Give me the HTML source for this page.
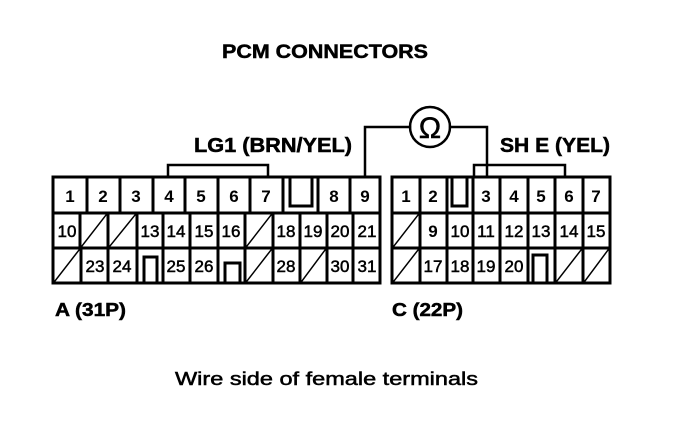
<!DOCTYPE html>
<html><head><meta charset="utf-8"><style>
html,body{margin:0;padding:0;background:#fff}
svg{display:block}
text{font-family:"Liberation Sans",Arial,sans-serif;fill:#000}
.b{font-weight:bold}
.n{font-size:17px;text-anchor:middle}
.r{stroke:#000;stroke-width:0.5}
</style></head><body>
<svg width="688" height="424" viewBox="0 0 688 424" xmlns="http://www.w3.org/2000/svg">
<g stroke="#000" stroke-width="3" fill="none" stroke-linecap="square">
<rect x="53" y="177" width="327" height="106"/>
<line x1="53" y1="213" x2="380" y2="213"/>
<line x1="53" y1="248" x2="380" y2="248"/>
<line x1="87" y1="177" x2="87" y2="213"/>
<line x1="120" y1="177" x2="120" y2="213"/>
<line x1="153" y1="177" x2="153" y2="213"/>
<line x1="185" y1="177" x2="185" y2="213"/>
<line x1="218" y1="177" x2="218" y2="213"/>
<line x1="250" y1="177" x2="250" y2="213"/>
<line x1="283" y1="177" x2="283" y2="213"/>
<line x1="318" y1="177" x2="318" y2="213"/>
<line x1="350" y1="177" x2="350" y2="213"/>
<polyline points="290,177 290,206 312,206 312,177"/>
<line x1="80" y1="213" x2="80" y2="248"/>
<line x1="108" y1="213" x2="108" y2="248"/>
<line x1="137" y1="213" x2="137" y2="283"/>
<line x1="163" y1="213" x2="163" y2="283"/>
<line x1="190" y1="213" x2="190" y2="283"/>
<line x1="218" y1="213" x2="218" y2="283"/>
<line x1="245" y1="213" x2="245" y2="283"/>
<line x1="273" y1="213" x2="273" y2="283"/>
<line x1="300" y1="213" x2="300" y2="283"/>
<line x1="327" y1="213" x2="327" y2="283"/>
<line x1="353" y1="213" x2="353" y2="283"/>
<line x1="81" y1="248" x2="81" y2="283"/>
<line x1="108" y1="248" x2="108" y2="283"/>
<polyline points="144,283 144,257 157,257 157,283"/>
<polyline points="225,283 225,263 240,263 240,283"/>
<g stroke-width="1.5">
<line x1="82" y1="246" x2="106" y2="215"/>
<line x1="110" y1="246" x2="135" y2="215"/>
<line x1="247" y1="246" x2="271" y2="215"/>
<line x1="55" y1="281" x2="79" y2="250"/>
<line x1="247" y1="281" x2="271" y2="250"/>
<line x1="302" y1="281" x2="325" y2="250"/>
</g>
<rect x="392" y="177" width="218" height="106"/>
<line x1="392" y1="213" x2="610" y2="213"/>
<line x1="392" y1="248" x2="610" y2="248"/>
<line x1="420" y1="177" x2="420" y2="283"/>
<line x1="447" y1="177" x2="447" y2="283"/>
<line x1="473" y1="177" x2="473" y2="283"/>
<line x1="500" y1="177" x2="500" y2="283"/>
<line x1="528" y1="177" x2="528" y2="283"/>
<line x1="555" y1="177" x2="555" y2="283"/>
<line x1="583" y1="177" x2="583" y2="283"/>
<polyline points="452,177 452,206 467,206 467,177"/>
<polyline points="533,283 533,255 547,255 547,283"/>
<g stroke-width="1.5">
<line x1="394" y1="246" x2="418" y2="215"/>
<line x1="394" y1="281" x2="418" y2="250"/>
<line x1="557" y1="281" x2="581" y2="250"/>
<line x1="585" y1="281" x2="608" y2="250"/>
</g>
<polyline points="168,177 168,165 268,165 268,177" stroke-width="2.5"/>
<polyline points="474,177 474,165 565,165 565,177" stroke-width="2.5"/>
<polyline points="365,177 365,127 410,127" stroke-width="2.5"/>
<polyline points="450,127 487,127 487,177" stroke-width="2.5"/>
<circle cx="430" cy="127" r="20" stroke-width="2.5"/>
</g>
<text x="430" y="138" font-size="30" text-anchor="middle" class="r">Ω</text>
<text class="b r" x="222" y="58" font-size="19" textLength="206" lengthAdjust="spacingAndGlyphs">PCM CONNECTORS</text>
<text class="b r" x="194" y="152" font-size="20" textLength="158" lengthAdjust="spacingAndGlyphs">LG1 (BRN/YEL)</text>
<text class="b r" x="500" y="152" font-size="20" textLength="110" lengthAdjust="spacingAndGlyphs">SH E (YEL)</text>
<text class="b r" x="55" y="316" font-size="18" textLength="71" lengthAdjust="spacingAndGlyphs">A (31P)</text>
<text class="b r" x="392" y="316" font-size="18" textLength="71" lengthAdjust="spacingAndGlyphs">C (22P)</text>
<text x="175" y="385" font-size="18" class="r" textLength="303" lengthAdjust="spacingAndGlyphs">Wire side of female terminals</text>
<g class="n">
<text x="70" y="202" class="b">1</text><text x="103" y="202" class="b">2</text><text x="136" y="202" class="b">3</text><text x="169" y="202" class="b">4</text><text x="201" y="202" class="b">5</text><text x="234" y="202" class="b">6</text><text x="266" y="202" class="b">7</text><text x="334" y="202" class="b">8</text><text x="365" y="202" class="b">9</text>
<g class="r">
<text x="67" y="237">10</text><text x="150" y="237">13</text><text x="176" y="237">14</text><text x="204" y="237">15</text><text x="231" y="237">16</text><text x="286" y="237">18</text><text x="313" y="237">19</text><text x="340" y="237">20</text><text x="367" y="237">21</text>
<text x="95" y="272">23</text><text x="122" y="272">24</text><text x="176" y="272">25</text><text x="204" y="272">26</text><text x="286" y="272">28</text><text x="340" y="272">30</text><text x="367" y="272">31</text>
<text x="460" y="237">10</text><text x="486" y="237">11</text><text x="514" y="237">12</text><text x="541" y="237">13</text><text x="569" y="237">14</text><text x="596" y="237">15</text>
<text x="433" y="272">17</text><text x="460" y="272">18</text><text x="486" y="272">19</text><text x="514" y="272">20</text>
</g>
<text x="406" y="202" class="b">1</text><text x="433" y="202" class="b">2</text><text x="486" y="202" class="b">3</text><text x="514" y="202" class="b">4</text><text x="541" y="202" class="b">5</text><text x="569" y="202" class="b">6</text><text x="596" y="202" class="b">7</text>
<text x="433" y="237" class="b">9</text>
</g>
</svg>
</body></html>
